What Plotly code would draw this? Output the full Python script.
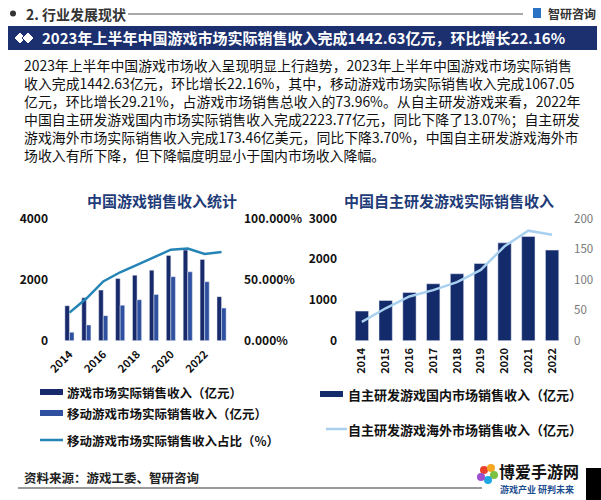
import plotly.graph_objects as go

W, H = 601, 500
FONT = "Noto Sans CJK SC"

# ---- data ----
years_left = ["2014", "2015", "2016", "2017", "2018", "2019", "2020", "2021", "2022", "2023"]
game_revenue = [1144.8, 1407.0, 1655.7, 2036.1, 2144.4, 2308.8, 2786.9, 2965.1, 2658.8, 1442.6]
mobile_revenue = [274.9, 514.6, 819.2, 1161.2, 1339.6, 1513.7, 2096.8, 2255.4, 1930.6, 1067.1]
mobile_share = [23.0, 34.5, 48.5, 56.0, 62.0, 68.5, 74.5, 75.5, 71.0, 72.5]
left_ticks = ["2014", "2016", "2018", "2020", "2022"]

years_right = ["2014", "2015", "2016", "2017", "2018", "2019", "2020", "2021", "2022"]
domestic_revenue = [726.6, 986.7, 1182.5, 1397.4, 1643.9, 1895.1, 2401.9, 2558.2, 2223.8]
overseas_revenue = [30.8, 53.1, 72.4, 82.8, 95.9, 115.9, 154.5, 180.1, 173.5]

legend_left = ["游戏市场实际销售收入（亿元）", "移动游戏市场实际销售收入（亿元）", "移动游戏市场实际销售收入占比（%）"]
legend_right = ["自主研发游戏国内市场销售收入（亿元）", "自主研发游戏海外市场销售收入（亿元）"]

header = "2. 行业发展现状"
banner = "2023年上半年中国游戏市场实际销售收入完成1442.63亿元，环比增长22.16%"
body_lines = [
    "2023年上半年中国游戏市场收入呈现明显上行趋势，2023年上半年中国游戏市场实际销售",
    "收入完成1442.63亿元，环比增长22.16%，其中，移动游戏市场实际销售收入完成1067.05",
    "亿元，环比增长29.21%，占游戏市场销售总收入的73.96%。从自主研发游戏来看，2022年",
    "中国自主研发游戏国内市场实际销售收入完成2223.77亿元，同比下降了13.07%；自主研发",
    "游戏海外市场实际销售收入完成173.46亿美元，同比下降3.70%，中国自主研发游戏海外市",
    "场收入有所下降，但下降幅度明显小于国内市场收入降幅。",
]
title_left = "中国游戏销售收入统计"
title_right = "中国自主研发游戏实际销售收入"
source = "资料来源：游戏工委、智研咨询"

# ---- colors ----
NAVY = "#1c2f6e"
DARK_BAR = "#192a6b"
MOBILE_BAR = "#2f4f9f"
SHARE_LINE = "#2584b6"
RIGHT_BAR = "#132a6b"
RIGHT_LINE = "#a9d1ef"
TITLE_C = "#1f3c78"


def px(x):
    return x / W


def py(y):
    return 1 - y / H


YD = [py(340.7), py(218.5)]

fig = go.Figure()

# left chart
fig.add_trace(go.Bar(x=years_left, y=game_revenue, marker_color=DARK_BAR, xaxis="x", yaxis="y",
                     showlegend=False))
fig.add_trace(go.Bar(x=years_left, y=mobile_revenue, marker_color=MOBILE_BAR, xaxis="x", yaxis="y",
                     showlegend=False))
fig.add_trace(go.Scatter(x=years_left, y=mobile_share, mode="lines", line=dict(color=SHARE_LINE, width=2.5),
                         xaxis="x", yaxis="y2", showlegend=False))

# right chart
fig.add_trace(go.Bar(x=years_right, y=domestic_revenue, marker_color=RIGHT_BAR, xaxis="x2", yaxis="y3",
                     showlegend=False, offsetgroup="r", width=0.56))
fig.add_trace(go.Scatter(x=years_right, y=overseas_revenue, mode="lines", line=dict(color=RIGHT_LINE, width=2.5),
                         xaxis="x2", yaxis="y4", showlegend=False))

tickfont_b = dict(family=FONT, size=12, color="#111", weight="bold")

shapes = []
annotations = []

# header
shapes.append(dict(type="circle", xref="paper", yref="paper", x0=px(10), x1=px(16), y0=py(16.5), y1=py(10.5),
                   fillcolor="#333", line=dict(width=0)))
annotations.append(dict(x=px(24), y=py(13.5), xref="paper", yref="paper", xanchor="left", yanchor="middle",
                        text=header, showarrow=False, font=dict(family=FONT, size=14, color="#333", weight="bold")))
shapes.append(dict(type="line", xref="paper", yref="paper", x0=px(128), x1=px(523), y0=py(14), y1=py(14),
                   line=dict(color="#555", width=1.2)))
# top-right logo
shapes.append(dict(type="rect", xref="paper", yref="paper", x0=px(533), x1=px(541), y0=py(18), y1=py(8),
                   fillcolor="#2c72c4", line=dict(width=0)))
annotations.append(dict(x=px(546), y=py(13.5), xref="paper", yref="paper", xanchor="left", yanchor="middle",
                        text="智研咨询", showarrow=False, font=dict(family=FONT, size=12, color="#333", weight="bold")))

# banner
shapes.append(dict(type="rect", xref="paper", yref="paper", x0=px(8), x1=px(597), y0=py(50), y1=py(26),
                   fillcolor=NAVY, line=dict(width=0)))
for cx in (20, 28):
    shapes.append(dict(type="path", xref="paper", yref="paper",
                       path=f"M {px(cx-6)} {py(38)} L {px(cx)} {py(32)} L {px(cx+6)} {py(38)} L {px(cx)} {py(44)} Z",
                       fillcolor="white", line=dict(color=NAVY, width=1)))
annotations.append(dict(x=px(40), y=py(38), xref="paper", yref="paper", xanchor="left", yanchor="middle",
                        text=banner, showarrow=False, font=dict(family=FONT, size=15, color="white", weight="bold")))

# body text (one block)
annotations.append(dict(x=px(22), y=py(110), xref="paper", yref="paper", xanchor="left", yanchor="middle",
                        align="left", text="<br>".join(body_lines), showarrow=False,
                        font=dict(family=FONT, size=13.9, color="#111")))

# chart titles
annotations.append(dict(x=px(162), y=py(200), xref="paper", yref="paper", xanchor="center", yanchor="middle",
                        text=title_left, showarrow=False, font=dict(family=FONT, size=15, color=TITLE_C,
                                                                     weight="bold")))
annotations.append(dict(x=px(449), y=py(200), xref="paper", yref="paper", xanchor="center", yanchor="middle",
                        text=title_right, showarrow=False, font=dict(family=FONT, size=15, color=TITLE_C,
                                                                      weight="bold")))

# left legend
leg_font = dict(family=FONT, size=12.5, color="#111", weight="bold")
for i, (txt, yy) in enumerate(zip(legend_left, [392, 413, 440])):
    if i < 2:
        shapes.append(dict(type="rect", xref="paper", yref="paper", x0=px(40), x1=px(63), y0=py(yy + 3),
                           y1=py(yy - 3), fillcolor=[DARK_BAR, MOBILE_BAR][i], line=dict(width=0)))
    else:
        shapes.append(dict(type="line", xref="paper", yref="paper", x0=px(40), x1=px(63), y0=py(yy), y1=py(yy),
                           line=dict(color=SHARE_LINE, width=2.5)))
    annotations.append(dict(x=px(65), y=py(yy), xref="paper", yref="paper", xanchor="left", yanchor="middle",
                            text=txt, showarrow=False, font=leg_font))

# right legend
leg_font_r = dict(family=FONT, size=13, color="#111", weight="bold")
shapes.append(dict(type="rect", xref="paper", yref="paper", x0=px(320), x1=px(343), y0=py(397), y1=py(391),
                   fillcolor=RIGHT_BAR, line=dict(width=0)))
annotations.append(dict(x=px(346), y=py(394), xref="paper", yref="paper", xanchor="left", yanchor="middle",
                        text=legend_right[0], showarrow=False, font=leg_font_r))
shapes.append(dict(type="line", xref="paper", yref="paper", x0=px(326), x1=px(347), y0=py(429), y1=py(429),
                   line=dict(color=RIGHT_LINE, width=2.5)))
annotations.append(dict(x=px(346), y=py(429), xref="paper", yref="paper", xanchor="left", yanchor="middle",
                        text=legend_right[1], showarrow=False, font=leg_font_r))

# footer
annotations.append(dict(x=px(22), y=py(477), xref="paper", yref="paper", xanchor="left", yanchor="middle",
                        text=source, showarrow=False, font=dict(family=FONT, size=12.5, color="#222",
                                                                 weight="bold")))
shapes.append(dict(type="line", xref="paper", yref="paper", x0=px(18), x1=px(482), y0=py(488), y1=py(488),
                   line=dict(color="#777", width=1.5)))
# bottom-right site logo
for (cx, cy, c) in [(484, 470, "#e8412c"), (491, 468, "#f5a623"), (494, 475, "#7cc242"), (488, 480, "#1ea7e1"),
                    (481, 477, "#9b4fd0")]:
    shapes.append(dict(type="circle", xref="paper", yref="paper", x0=px(cx - 4), x1=px(cx + 4), y0=py(cy + 4),
                       y1=py(cy - 4), fillcolor=c, line=dict(width=0)))
annotations.append(dict(x=px(497), y=py(471), xref="paper", yref="paper", xanchor="left", yanchor="middle",
                        text="博爱手游网", showarrow=False, font=dict(family=FONT, size=16, color="#111",
                                                                  weight="bold")))
annotations.append(dict(x=px(498), y=py(489), xref="paper", yref="paper", xanchor="left", yanchor="middle",
                        text="游戏产业 研判未来", showarrow=False, font=dict(family=FONT, size=9, color="#1d4e8f",
                                                                     weight="bold")))
shapes.append(dict(type="rect", xref="paper", yref="paper", x0=px(586), x1=px(601), y0=py(500), y1=py(468),
                   fillcolor="#000", line=dict(width=0)))

fig.update_layout(
    width=W, height=H, margin=dict(l=0, r=0, t=0, b=0, pad=0, autoexpand=False),
    paper_bgcolor="white", plot_bgcolor="rgba(0,0,0,0)",
    barmode="group", bargap=0.46, bargroupgap=0,
    font=dict(family=FONT),
    showlegend=False,
    xaxis=dict(domain=[px(61), px(230)], type="category", tickmode="array", tickvals=left_ticks,
               ticktext=left_ticks, tickangle=-45, tickfont=dict(family=FONT, size=11, color="#111",
                                                                  weight="bold"),
               showline=False, showgrid=False, zeroline=False, anchor="y", automargin=False,
               ticklabelstandoff=4),
    yaxis=dict(domain=YD, range=[0, 4000], tickvals=[0, 2000, 4000], tickfont=tickfont_b, showgrid=False,
               zeroline=False, showline=False, anchor="x", ticklabelstandoff=12, automargin=False),
    yaxis2=dict(domain=YD, range=[0, 100], tickvals=[0, 50, 100],
                ticktext=["0.000%", "50.000%", "100.000%"], overlaying="y", side="right", anchor="x",
                tickfont=tickfont_b, showgrid=False, zeroline=False, showline=False, ticklabelstandoff=13,
                automargin=False),
    xaxis2=dict(domain=[px(350), px(564)], type="category", tickangle=-90,
                tickfont=dict(family=FONT, size=11, color="#111", weight="bold"),
                showline=False, showgrid=False, zeroline=False, anchor="y3", automargin=False,
                ticklabelstandoff=4),
    yaxis3=dict(domain=YD, range=[0, 3000], tickvals=[0, 1000, 2000, 3000], tickfont=tickfont_b,
                showgrid=False, zeroline=False, showline=False, anchor="x2", ticklabelstandoff=12,
                automargin=False),
    yaxis4=dict(domain=YD, range=[0, 200], tickvals=[0, 50, 100, 150, 200], overlaying="y3", side="right",
                anchor="x2", tickfont=dict(family=FONT, size=11.5, color="#777"), showgrid=False,
                zeroline=False, showline=False, ticklabelstandoff=9, automargin=False),
    shapes=shapes, annotations=annotations,
)

fig.write_html("out.html")
